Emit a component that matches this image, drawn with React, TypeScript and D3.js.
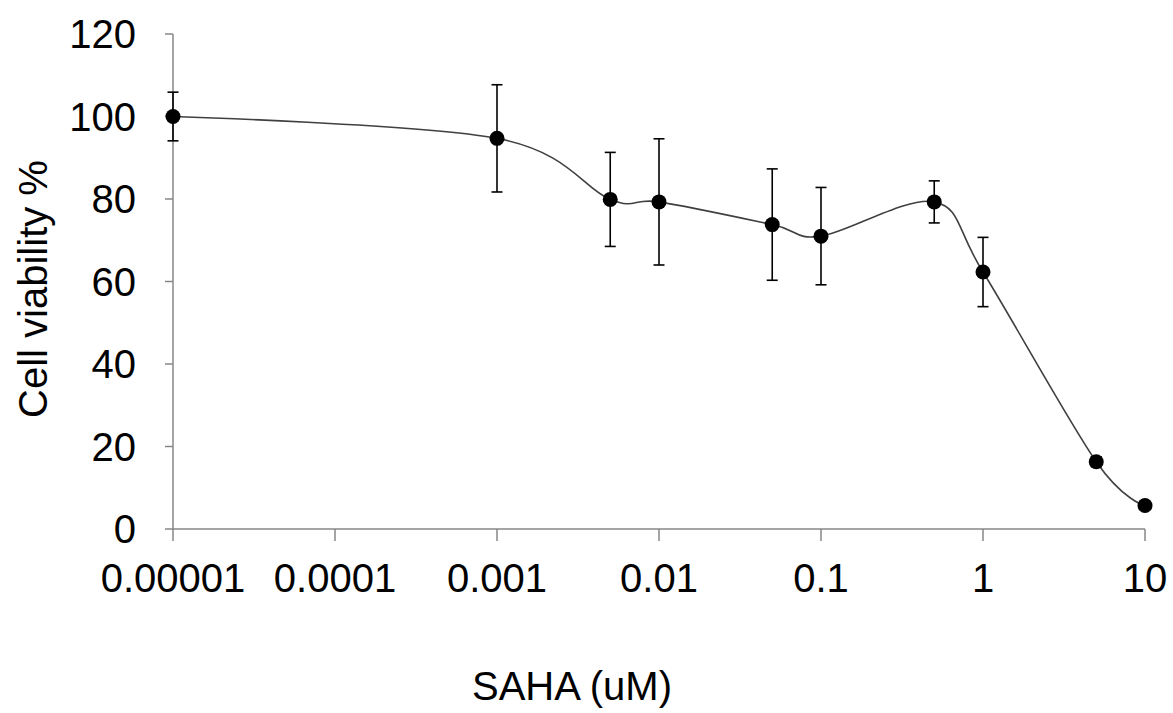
import React from "react";
import * as d3 from "d3";

const concentrations = [0.00001, 0.001, 0.005, 0.01, 0.05, 0.1, 0.5, 1, 5, 10];
const viability = [100, 94.7, 79.9, 79.3, 73.8, 71.0, 79.3, 62.3, 16.3, 5.7];
const errors = [5.9, 13.0, 11.4, 15.3, 13.5, 11.8, 5.1, 8.4, 1.2, 0.8];
const xTickValues = [0.00001, 0.0001, 0.001, 0.01, 0.1, 1, 10];
const xTickLabels = ["0.00001", "0.0001", "0.001", "0.01", "0.1", "1", "10"];
const yTickValues = [0, 20, 40, 60, 80, 100, 120];

const W = 1173;
const H = 713;
const FONT = "'Liberation Sans', Arial, sans-serif";

export default function App() {
  const x = d3.scaleLog().domain([0.00001, 10]).range([173, 1145]);
  const y = d3.scaleLinear().domain([0, 120]).range([529, 34]);
  const pts = concentrations.map((c, i) => ({ c, v: viability[i], e: errors[i] }));
  const line = d3
    .line<{ c: number; v: number }>()
    .x((d) => x(d.c))
    .y((d) => y(d.v))
    .curve(d3.curveCardinal.tension(0));
  const axisColor = "#878787";
  return (
    <svg
      width={W}
      height={H}
      style={{ position: "absolute", left: 0, top: 0, background: "#fff" }}
    >
      <rect x={0} y={0} width={W} height={H} fill="#fff" />
      {/* y axis */}
      <line x1={173} x2={173} y1={y(120)} y2={y(0)} stroke={axisColor} strokeWidth={1.5} />
      {yTickValues.map((t) => (
        <g key={t}>
          <line x1={165} x2={173} y1={y(t)} y2={y(t)} stroke={axisColor} strokeWidth={1.5} />
          <text
            x={136}
            y={y(t)}
            textAnchor="end"
            dominantBaseline="central"
            fontFamily={FONT}
            fontSize={40}
            fill="#000"
          >
            {t}
          </text>
        </g>
      ))}
      {/* x axis */}
      <line x1={x(0.00001)} x2={x(10)} y1={529} y2={529} stroke={axisColor} strokeWidth={1.5} />
      {xTickValues.map((t, i) => (
        <g key={t}>
          <line x1={x(t)} x2={x(t)} y1={529} y2={541} stroke={axisColor} strokeWidth={1.5} />
          <text
            x={x(t)}
            y={592}
            textAnchor="middle"
            fontFamily={FONT}
            fontSize={40}
            fill="#000"
          >
            {xTickLabels[i]}
          </text>
        </g>
      ))}
      {/* curve */}
      <path d={line(pts) || ""} fill="none" stroke="#404040" strokeWidth={1.6} />
      {/* error bars */}
      {pts.map((p, i) => (
        <g key={i} stroke="#000" strokeWidth={1.6}>
          <line x1={x(p.c)} x2={x(p.c)} y1={y(p.v + p.e)} y2={y(p.v - p.e)} />
          <line x1={x(p.c) - 5.5} x2={x(p.c) + 5.5} y1={y(p.v + p.e)} y2={y(p.v + p.e)} />
          <line x1={x(p.c) - 5.5} x2={x(p.c) + 5.5} y1={y(p.v - p.e)} y2={y(p.v - p.e)} />
        </g>
      ))}
      {/* markers */}
      {pts.map((p, i) => (
        <circle key={i} cx={x(p.c)} cy={y(p.v)} r={7.5} fill="#000" />
      ))}
      {/* axis titles */}
      <text
        transform={`translate(33, ${289}) rotate(-90)`}
        textAnchor="middle"
        dominantBaseline="central"
        fontFamily={FONT}
        fontSize={40}
        fill="#000"
      >
        Cell viability %
      </text>
      <text x={572} y={700} textAnchor="middle" fontFamily={FONT} fontSize={40} fill="#000">
        SAHA (uM)
      </text>
    </svg>
  );
}
